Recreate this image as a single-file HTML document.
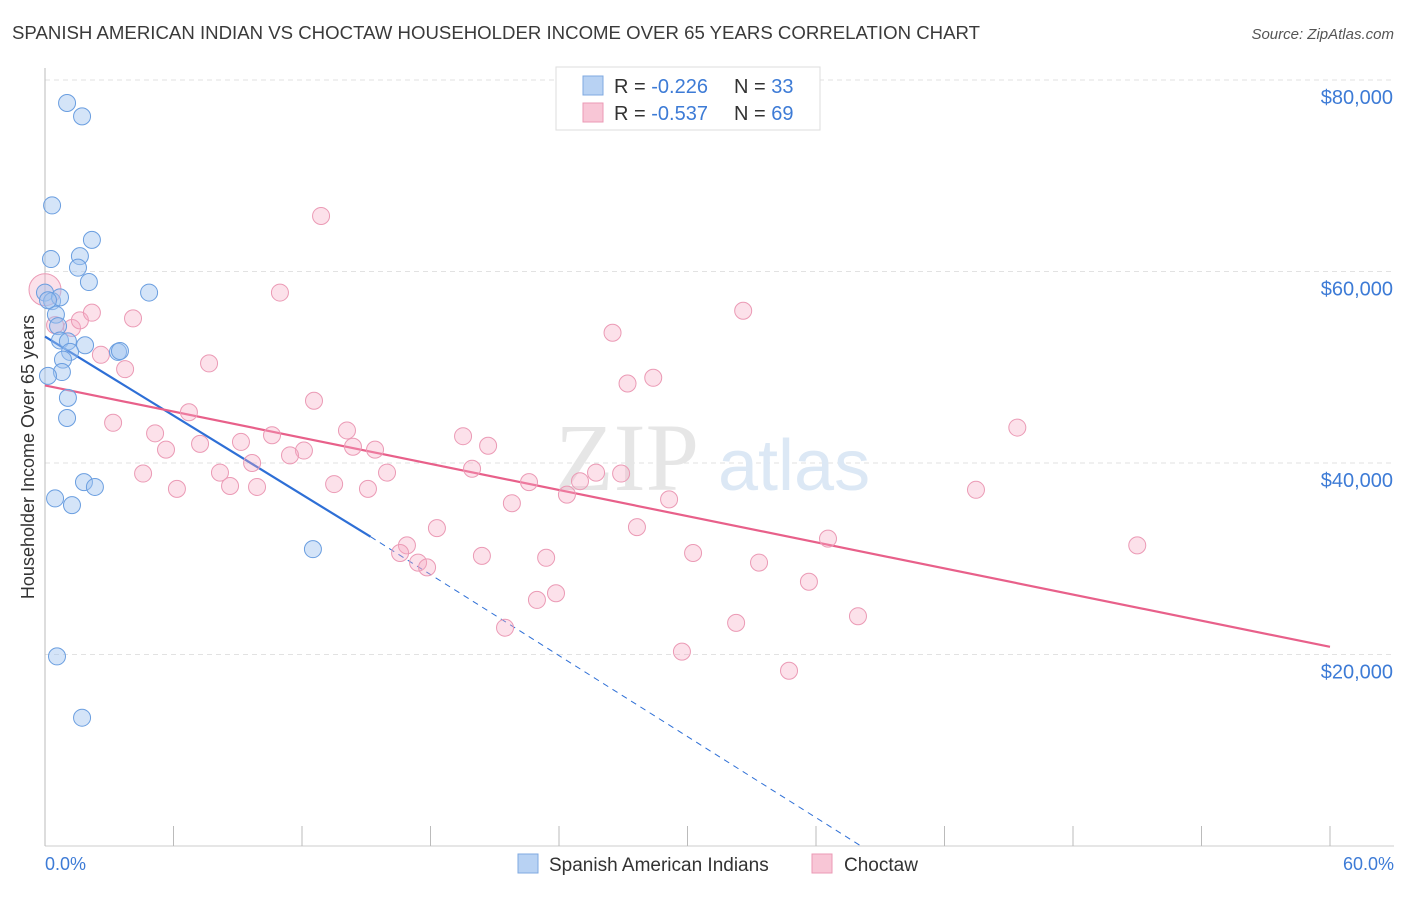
<!DOCTYPE html>
<html><head><meta charset="utf-8"><style>
body{margin:0;background:#fff;font-family:"Liberation Sans",sans-serif}
</style></head><body>
<svg id="chart" width="1406" height="892" viewBox="0 0 1406 892" xmlns="http://www.w3.org/2000/svg" font-family="Liberation Sans, sans-serif">
<text x="12" y="39" font-size="18" fill="#3a3a3a" textLength="968" lengthAdjust="spacingAndGlyphs">SPANISH AMERICAN INDIAN VS CHOCTAW HOUSEHOLDER INCOME OVER 65 YEARS CORRELATION CHART</text>
<text x="1394" y="39" font-size="15" fill="#555" text-anchor="end" font-style="italic">Source: ZipAtlas.com</text>
<g id="grid"></g>
<text x="555" y="490" font-size="96" fill="#e6e6e6" font-family="Liberation Serif, serif">ZIP</text>
<text x="718" y="490" font-size="72" fill="#dce8f5">atlas</text>
<line x1="45" y1="68" x2="45" y2="846" stroke="#bbb"/>
<line x1="45" y1="846" x2="1394" y2="846" stroke="#ccc"/>
<g id="ticks"></g>
<text transform="translate(34,457) rotate(-90)" font-size="18" fill="#333" text-anchor="middle">Householder Income Over 65 years</text>
<text x="45" y="870" font-size="18" fill="#3d7bd6">0.0%</text>
<text x="1394" y="870" font-size="18" fill="#3d7bd6" text-anchor="end">60.0%</text>
<g id="lines"></g>
<g id="pts"></g>
<g>
<rect x="556" y="67" width="264" height="63" fill="#fff" stroke="#ddd"/>
<rect x="583" y="76" width="20" height="19" fill="#b8d2f3" stroke="#7fa9e0"/>
<rect x="583" y="103" width="20" height="19" fill="#f8c6d6" stroke="#eb9ab5"/>
<text x="614" y="93" font-size="20" fill="#333">R = <tspan fill="#3d7bd6">-0.226</tspan><tspan x="734">N = </tspan><tspan fill="#3d7bd6">33</tspan></text>
<text x="614" y="120" font-size="20" fill="#333">R = <tspan fill="#3d7bd6">-0.537</tspan><tspan x="734">N = </tspan><tspan fill="#3d7bd6">69</tspan></text>
</g>
<g>
<rect x="518" y="854" width="20" height="19" fill="#b8d2f3" stroke="#7fa9e0"/>
<text x="549" y="871" font-size="19" fill="#333">Spanish American Indians</text>
<rect x="812" y="854" width="20" height="19" fill="#f8c6d6" stroke="#eb9ab5"/>
<text x="844" y="871" font-size="19" fill="#333">Choctaw</text>
</g>
</svg>
<script>
const yTicks=[20000,40000,60000,80000];
const yTickLabels=["$20,000","$40,000","$60,000","$80,000"];
const xTicks=[0,6,12,18,24,30,36,42,48,54,60];
const blueX=[1.03,1.73,0.33,2.19,0.28,1.63,1.54,2.05,4.86,0.0,0.33,0.70,0.51,0.61,0.70,1.07,1.87,3.41,3.50,1.17,0.84,0.79,0.14,1.07,1.03,1.82,2.33,0.47,1.26,12.51,0.56,1.73,0.14];
const blueY=[77.6,76.2,66.9,63.3,61.3,61.6,60.4,58.9,57.8,57.8,56.9,57.3,55.5,54.3,52.8,52.7,52.3,51.6,51.7,51.6,50.8,49.5,49.1,46.8,44.7,38.0,37.5,36.3,35.6,31.0,19.8,13.4,57.0];
const pinkX=[0,0.47,1.26,1.63,2.19,4.11,2.61,3.74,7.66,10.97,12.89,32.6,26.5,28.4,27.2,45.4,12.56,6.72,3.18,5.14,5.65,7.24,9.15,10.6,12.09,11.44,14.1,14.38,15.41,19.52,20.69,9.67,8.17,8.64,4.58,6.16,9.9,13.5,15.08,15.97,19.94,22.6,21.8,24.37,24.98,25.73,26.9,29.14,43.47,18.3,27.64,16.9,16.58,17.42,17.84,20.4,23.4,30.26,33.34,36.56,51.0,35.67,23.86,22.97,21.48,37.96,32.27,29.74,34.74];
const pinkY=[58.1,54.4,54.1,54.9,55.7,55.1,51.3,49.8,50.4,57.8,65.8,55.9,53.6,48.9,48.3,43.7,46.5,45.3,44.2,43.1,41.4,42.0,42.2,42.9,41.3,40.8,43.4,41.7,41.4,42.8,41.8,40.0,39.0,37.6,38.9,37.3,37.5,37.8,37.3,39.0,39.4,38.0,35.8,36.7,38.1,39.0,38.9,36.2,37.2,33.2,33.3,31.4,30.6,29.6,29.1,30.3,30.1,30.6,29.6,32.1,31.4,27.6,26.4,25.7,22.8,24.0,23.3,20.3,18.3];
const blueTrend=[[0,53.2],[15.2,32.3],[38.1,0]];
const pinkTrend=[[0,48.1],[60,20.8]];
const NS="http://www.w3.org/2000/svg";
const X=v=>45+v/60*1285;
const Y=v=>846-v/20*191.5;
function mk(t,a,p){const e=document.createElementNS(NS,t);for(const k in a)e.setAttribute(k,a[k]);p.appendChild(e);return e;}
const grid=document.getElementById('grid');
yTicks.forEach((t,i)=>{
 const l=mk('line',{x1:45,x2:1394,y1:Y(t/1000),y2:Y(t/1000),stroke:'#e2e2e2','stroke-dasharray':'5,4'},grid);
 
 
 const tx=mk('text',{x:1393,y:Y(t/1000)+24,'font-size':20,fill:'#3d7bd6','text-anchor':'end'},grid);
 tx.textContent=yTickLabels[i];
 
 
});
const ticks=document.getElementById('ticks');
xTicks.forEach(t=>{
 const l=mk('line',{x1:X(t),x2:X(t),y1:826,y2:846,stroke:'#bbb'},ticks);
 
 
});
const lines=document.getElementById('lines');
let b1=mk('line',{x1:X(blueTrend[0][0]),y1:Y(blueTrend[0][1]),x2:X(blueTrend[1][0]),y2:Y(blueTrend[1][1]),stroke:'#2e6fd6','stroke-width':2.2},lines);


let b2=mk('line',{x1:X(blueTrend[1][0]),y1:Y(blueTrend[1][1]),x2:X(blueTrend[2][0]),y2:Y(blueTrend[2][1]),stroke:'#2e6fd6','stroke-width':1,'stroke-dasharray':'6,5'},lines);


let p1=mk('line',{x1:X(pinkTrend[0][0]),y1:Y(pinkTrend[0][1]),x2:X(pinkTrend[1][0]),y2:Y(pinkTrend[1][1]),stroke:'#e8608a','stroke-width':2.2},lines);


const pts=document.getElementById('pts');
pinkX.forEach((x,i)=>{
 const c=mk('circle',{cx:X(x),cy:Y(pinkY[i]),r:i===0?16:8.5,fill:'rgba(245,170,195,0.35)',stroke:'#eb9ab5','stroke-width':1},pts);
 
 
});
blueX.forEach((x,i)=>{
 const c=mk('circle',{cx:X(x),cy:Y(blueY[i]),r:8.5,fill:'rgba(160,195,240,0.45)',stroke:'#6a9ee0','stroke-width':1},pts);
 
 
});
</script>
</body></html>
